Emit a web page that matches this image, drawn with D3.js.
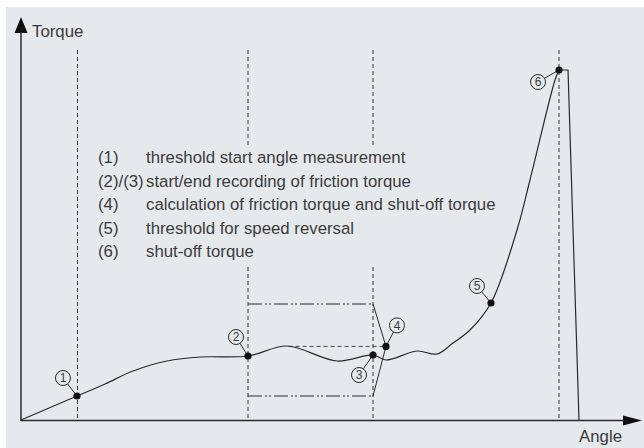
<!DOCTYPE html>
<html><head><meta charset="utf-8">
<script src="https://cdn.jsdelivr.net/npm/d3@7"></script>
<style>html,body{margin:0;padding:0;background:#fff;}svg{display:block;}</style>
</head><body>
<script>
// ---- data (angle / torque in arbitrary units) ----
const curveAngle  = [0, 9.33, 14, 18.67, 24.33, 30, 37.83, 44.33, 52.67, 58.67, 60.83, 66, 69.33, 72, 74.83, 78.33, 82.67, 84.83, 89, 89.67];
const curveTorque = [0, 6, 9, 12.25, 14.75, 15.75, 16, 18.5, 14.75, 16.25, 15, 17.25, 16.5, 19.25, 22.5, 29.25, 47.5, 60, 85, 87.5];
const dropAngle   = [89.67, 91.17, 93];
const dropTorque  = [87.5, 87.5, 0];
const markerIds    = ["1", "2", "3", "4", "5", "6"];
const markerAngle  = [9.33, 37.83, 58.67, 60.83, 78.33, 89.67];
const markerTorque = [6, 16, 16.25, 18.4, 29.25, 87.5];
const thresholdAngles = [9.33, 37.83, 58.67, 89.67];
const thresholdTop = 92.5;
const windowStart = 37.83, windowEnd = 58.67, windowUpper = 29, windowLower = 6;
const vTipAngle = 60.83, vTipTorque = 18.4;
const refLineStart = 44.6;
const legendKeys  = ["(1)", "(2)/(3)", "(4)", "(5)", "(6)"];
const legendTexts = ["threshold start angle measurement", "start/end recording of friction torque",
  "calculation of friction torque and shut-off torque", "threshold for speed reversal", "shut-off torque"];
const axisLabels = {x: "Angle", y: "Torque"};

// ---- layout ----
const W = 644, H = 448, BG = "#e6e9ec", INK = "#2a2a2a", TXT = "#3c3c3c";
const FONT = "'Liberation Sans', Arial, Helvetica, sans-serif";
const FS = 16.8;
const svg = d3.select("body").append("svg").attr("width", W).attr("height", H);
svg.append("rect").attr("x", 6).attr("y", 7).attr("width", W - 6).attr("height", H - 7).attr("fill", BG);

const x = d3.scaleLinear().domain([0, 100]).range([21, 621]);
const y = d3.scaleLinear().domain([0, 100]).range([420, 20]);

// threshold dashed verticals
svg.append("g").selectAll("line").data(thresholdAngles).join("line")
  .attr("x1", d => Math.round(x(d)) + (d < 20 ? 0.5 : 0)).attr("x2", d => Math.round(x(d)) + (d < 20 ? 0.5 : 0))
  .attr("y1", y(thresholdTop)).attr("y2", y(0))
  .attr("stroke", "#333").attr("stroke-width", 1).attr("stroke-dasharray", "4,3");

// legend background (covers the dashed lines)
svg.append("rect").attr("x", 92).attr("y", 145).attr("width", 414).attr("height", 120).attr("fill", BG);

// friction window (dash-dot box)
const dd = "14,3,2,2,2,3";
const win = svg.append("g").attr("stroke", INK).attr("fill", "none").attr("stroke-width", 1);
win.append("line").attr("x1", x(windowStart)).attr("x2", x(windowEnd)).attr("y1", y(windowUpper)).attr("y2", y(windowUpper)).attr("stroke-dasharray", dd);
win.append("line").attr("x1", x(windowStart)).attr("x2", x(windowEnd)).attr("y1", y(windowLower)).attr("y2", y(windowLower)).attr("stroke-dasharray", dd);
win.append("path").attr("d", d3.line()([[x(windowEnd), y(windowUpper)], [x(vTipAngle), y(vTipTorque)], [x(windowEnd), y(windowLower)]]));
win.append("line").attr("x1", x(refLineStart)).attr("x2", x(vTipAngle)).attr("y1", y(vTipTorque)).attr("y2", y(vTipTorque))
  .attr("stroke", "#444").attr("stroke-dasharray", "4,3");

// axes
const ax = svg.append("g").attr("stroke", INK).attr("stroke-width", 1.5);
ax.append("line").attr("x1", x(0)).attr("x2", 624).attr("y1", y(0) + 0.5).attr("y2", y(0) + 0.5);
ax.append("line").attr("x1", x(0)).attr("x2", x(0)).attr("y1", y(0) + 1).attr("y2", 32);
svg.append("path").attr("fill", "#111").attr("d", `M${x(0)},17 L${x(0) - 6.5},33 L${x(0) + 6.5},33 Z`);
svg.append("path").attr("fill", "#111").attr("d", `M642,${y(0) + 0.5} L623,${y(0) - 4.5} L623,${y(0) + 5.5} Z`);
svg.append("text").text(axisLabels.y).attr("x", 32).attr("y", 37).attr("font-family", FONT).attr("font-size", FS).attr("fill", TXT);
svg.append("text").text(axisLabels.x).attr("x", 622).attr("y", 442).attr("text-anchor", "end").attr("font-family", FONT).attr("font-size", FS).attr("fill", TXT);

// torque curve
const pts = curveAngle.map((a, i) => [x(a), y(curveTorque[i])]);
svg.append("path").attr("d", d3.line().curve(d3.curveCatmullRom.alpha(0.5))(pts))
  .attr("fill", "none").attr("stroke", INK).attr("stroke-width", 1.2);
const dpts = dropAngle.map((a, i) => [x(a), y(dropTorque[i])]);
svg.append("path").attr("d", d3.line()(dpts)).attr("fill", "none").attr("stroke", INK).attr("stroke-width", 1.2);

// markers with circled numbers
const offsets = [[-14, -18], [-12, -19], [-14, 20], [11, -21], [-14, -17], [-21, 12]];
const R = 7.5;
markerIds.forEach((id, i) => {
  const px = x(markerAngle[i]), py = y(markerTorque[i]);
  const cx = px + offsets[i][0], cy = py + offsets[i][1];
  const dx = cx - px, dy = cy - py, len = Math.hypot(dx, dy);
  svg.append("line").attr("x1", px).attr("y1", py).attr("x2", cx - dx / len * R).attr("y2", cy - dy / len * R)
    .attr("stroke", INK).attr("stroke-width", 1);
  svg.append("circle").attr("cx", cx).attr("cy", cy).attr("r", R).attr("fill", BG).attr("stroke", INK).attr("stroke-width", 1);
  svg.append("text").text(id).attr("x", cx).attr("y", cy + 4.3).attr("text-anchor", "middle")
    .attr("font-family", FONT).attr("font-size", 12).attr("fill", TXT);
  svg.append("circle").attr("cx", px).attr("cy", py).attr("r", 3.6).attr("fill", "#111");
});

// legend
const lg = svg.append("g").attr("font-family", FONT).attr("font-size", FS).attr("fill", TXT);
legendKeys.forEach((k, i) => {
  const by = 163 + i * 23.5;
  lg.append("text").text(k).attr("x", 98).attr("y", by);
  lg.append("text").text(legendTexts[i]).attr("x", 146).attr("y", by);
});
</script>
</body></html>
